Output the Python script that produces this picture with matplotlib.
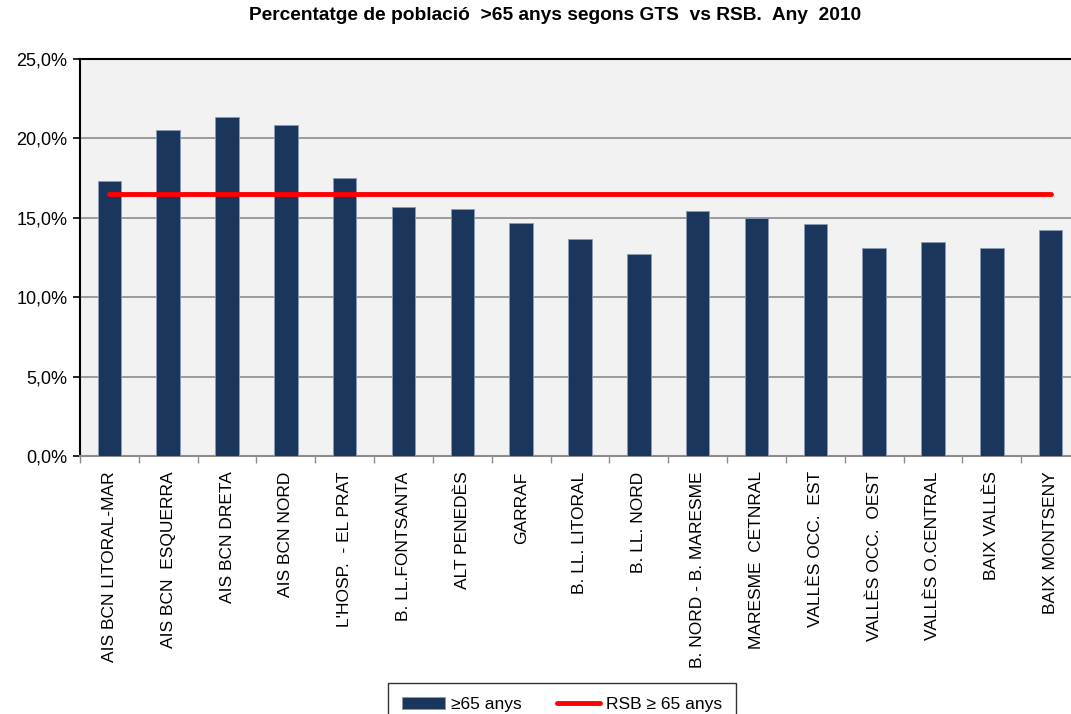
import matplotlib.pyplot as plt
import numpy as np
from matplotlib.ticker import FuncFormatter

plt.rcParams['font.family'] = ['Liberation Sans', 'DejaVu Sans']

# dades
zones = ["AIS BCN LITORAL-MAR", "AIS BCN  ESQUERRA", "AIS BCN DRETA", "AIS BCN NORD",
         "L'HOSP.  - EL PRAT", "B. LL.FONTSANTA", "ALT PENEDÈS", "GARRAF",
         "B. LL. LITORAL", "B. LL. NORD", "B. NORD - B. MARESME", "MARESME  CETNRAL",
         "VALLÈS OCC.  EST", "VALLÈS OCC.  OEST", "VALLÈS O.CENTRAL", "BAIX VALLÈS",
         "BAIX MONTSENY"]
pct_65 = [17.3, 20.55, 21.35, 20.85, 17.5, 15.65, 15.55, 14.7, 13.65, 12.7,
          15.4, 15.0, 14.6, 13.1, 13.5, 13.1, 14.25]
rsb_65 = [16.5] * len(zones)

x = np.arange(len(zones))

fig = plt.figure(figsize=(10.71, 7.14), dpi=100)
ax = fig.add_axes([80 / 1071, 1 - 456 / 714, 1000 / 1071, 397 / 714])
ax.set_facecolor('#f2f2f2')

bars = ax.bar(x, pct_65, width=0.4, color='#1b365d', edgecolor='#8a9bb5', linewidth=0.6,
              label='≥65 anys', zorder=3)
line, = ax.plot(x, rsb_65, color='#ff0000', linewidth=3.5, solid_capstyle='round',
                label='RSB ≥ 65 anys', zorder=4)

ax.set_xlim(-0.5, len(zones) - 0.5)
ax.set_ylim(0, 25)
ax.set_yticks(np.arange(0, 26, 5))
ax.yaxis.set_major_formatter(FuncFormatter(lambda v, p: f"{v:.1f}%".replace('.', ',')))
ax.grid(axis='y', color='#8c8c8c', linewidth=1.2, zorder=1)

ax.set_xticks(x)
ax.set_xticklabels(zones, rotation=90, fontsize=12.5, va='top', ha='center')
ax.set_xticks(np.arange(-0.5, len(zones), 1), minor=True)
ax.tick_params(axis='x', which='major', length=0, pad=11)
ax.tick_params(axis='x', which='minor', length=5, color='#8c8c8c', width=1)
ax.tick_params(axis='y', length=5, color='black', width=1.2, labelsize=13, pad=4)

ax.spines['right'].set_visible(False)
ax.spines['left'].set_color('black')
ax.spines['left'].set_linewidth(1.5)
ax.spines['top'].set_color('black')
ax.spines['top'].set_linewidth(1.5)
ax.spines['bottom'].set_color('#8c8c8c')
ax.spines['bottom'].set_linewidth(1.5)

fig.suptitle("Percentatge de població  >65 anys segons GTS  vs RSB.  Any  2010",
             fontsize=13.8, fontweight='bold', x=555 / 1071, y=1 - 7 / 714, va='top')

leg = fig.legend([bars, line], ['≥65 anys', 'RSB ≥ 65 anys'],
                 loc='upper left', bbox_to_anchor=(388 / 1071, 1 - 683 / 714),
                 ncol=2, frameon=True, fancybox=False, fontsize=12.5,
                 handlelength=2.5, columnspacing=2.0, borderpad=0.8,
                 handletextpad=0.35, borderaxespad=0)
leg.get_frame().set_edgecolor('black')
leg.get_frame().set_linewidth(1.0)

fig.savefig('out.png', dpi=100)
